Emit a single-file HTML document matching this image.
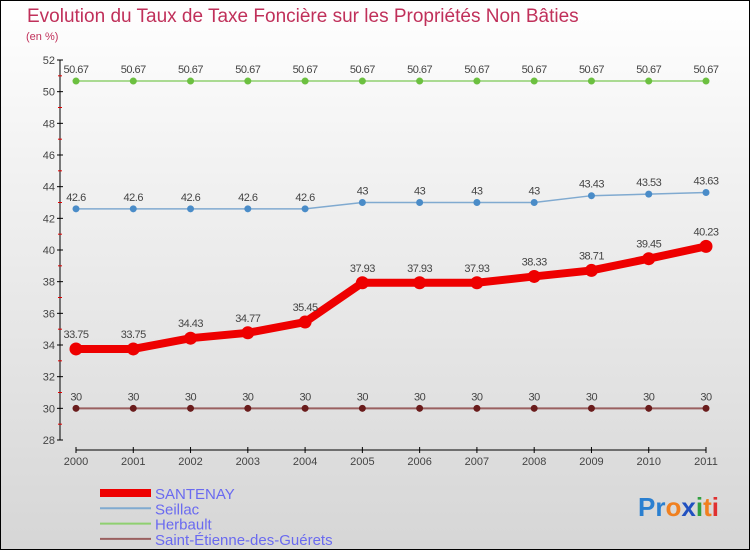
<!DOCTYPE html>
<html><head><meta charset="utf-8"><style>
body{margin:0}
#c{position:relative;width:748px;height:548px;border:1px solid #000;background:linear-gradient(#fff,#f2f2f2 30%,#d6d6d6);font-family:"Liberation Sans",sans-serif;overflow:hidden}
svg{position:absolute;left:-1px;top:-1px}
</style></head><body>
<div id="c">
<svg id="s" width="750" height="550">
<text x="27" y="22" font-size="19" fill="#c0305a">Evolution du Taux de Taxe Foncière sur les Propriétés Non Bâties</text>
<text x="26" y="40" font-size="11" fill="#c0305a">(en %)</text>
<text x="213" y="100" font-size="1" fill="none"></text>
<text x="638" y="516" font-size="26" font-weight="bold"><tspan fill="#2a7fd0">Pr</tspan><tspan fill="#f08020">o</tspan><tspan fill="#2050c0">x</tspan><tspan fill="#30a040">i</tspan><tspan fill="#f08020">t</tspan><tspan fill="#e03030">i</tspan></text>
</svg></div>
<script>
const years=[2000,2001,2002,2003,2004,2005,2006,2007,2008,2009,2010,2011];
const santenay=[33.75,33.75,34.43,34.77,35.45,37.93,37.93,37.93,38.33,38.71,39.45,40.23];
const seillac=[42.6,42.6,42.6,42.6,42.6,43,43,43,43,43.43,43.53,43.63];
const herbault=[50.67,50.67,50.67,50.67,50.67,50.67,50.67,50.67,50.67,50.67,50.67,50.67];
const saintEtienne=[30,30,30,30,30,30,30,30,30,30,30,30];
const yTicks=[28,30,32,34,36,38,40,42,44,46,48,50,52];
const NS="http://www.w3.org/2000/svg",svg=document.getElementById('s');
const X=i=>76+i*(630/11), Y=v=>440-(v-28)*(380/24);
function mk(t,a,p){const e=document.createElementNS(NS,t);for(const k in a)e.setAttribute(k,a[k]);(p||svg).appendChild(e);return e;}
let ax=mk('line',{x1:60,y1:60,x2:60,y2:440,stroke:'#000','stroke-width':1});


yTicks.forEach(v=>{
 mk('line',{x1:57,x2:63,y1:Y(v),y2:Y(v),stroke:'#000'});
 if(v<52) mk('line',{x1:58,x2:62,y1:Y(v+1),y2:Y(v+1),stroke:'#d00'});
 const t=mk('text',{x:55,y:Y(v)+4,'font-size':11,fill:'#444','text-anchor':'end'});t.textContent=v;
 
 
});
let xa=mk('line',{x1:76,y1:450,x2:706,y2:450,stroke:'#000'});


years.forEach((y,i)=>{
 mk('line',{x1:X(i),x2:X(i),y1:447,y2:453,stroke:'#000'});
 const t=mk('text',{x:X(i),y:465,'font-size':11,fill:'#444','text-anchor':'middle'});t.textContent=y;
 
 
});
const series=[
 {d:herbault,c:'#8fd070',p:'#6cc040',w:1.5,r:3.5,n:'herbault'},
 {d:seillac,c:'#80aad0',p:'#4a8cc8',w:1.5,r:3.5,n:'seillac'},
 {d:saintEtienne,c:'#9a6060',p:'#6a1c1c',w:2,r:3.5,n:'saint-etienne'},
 {d:santenay,c:'#ee0000',p:'#ee0000',w:8,r:6.5,n:'santenay'}];
series.forEach(s=>{
 const l=mk('polyline',{points:s.d.map((v,i)=>X(i)+','+Y(v)).join(' '),fill:'none',stroke:s.c,'stroke-width':s.w});
 
 
 s.d.forEach((v,i)=>{
  const p=mk('circle',{cx:X(i),cy:Y(v),r:s.r,fill:s.p});
  
  
  const t=mk('text',{x:X(i),y:Y(v)-(s.n=='santenay'?11:8),'font-size':11,fill:'#444','text-anchor':'middle','letter-spacing':'-0.5'});t.textContent=v;
  
  
 });
});
const leg=[['SANTENAY','#ee0000',8],['Seillac','#80aad0',2],['Herbault','#8fd070',2],['Saint-Étienne-des-Guérets','#9a6060',2]];
leg.forEach((e,i)=>{
 const y=493+i*15.3;
 const l=mk('line',{x1:100,x2:151,y1:y,y2:y,stroke:e[1],'stroke-width':e[2]});
 
 
 const t=mk('text',{x:155,y:y+6,'font-size':15,fill:'#6a6af0'});t.textContent=e[0];
 
 
});
</script></body></html>
